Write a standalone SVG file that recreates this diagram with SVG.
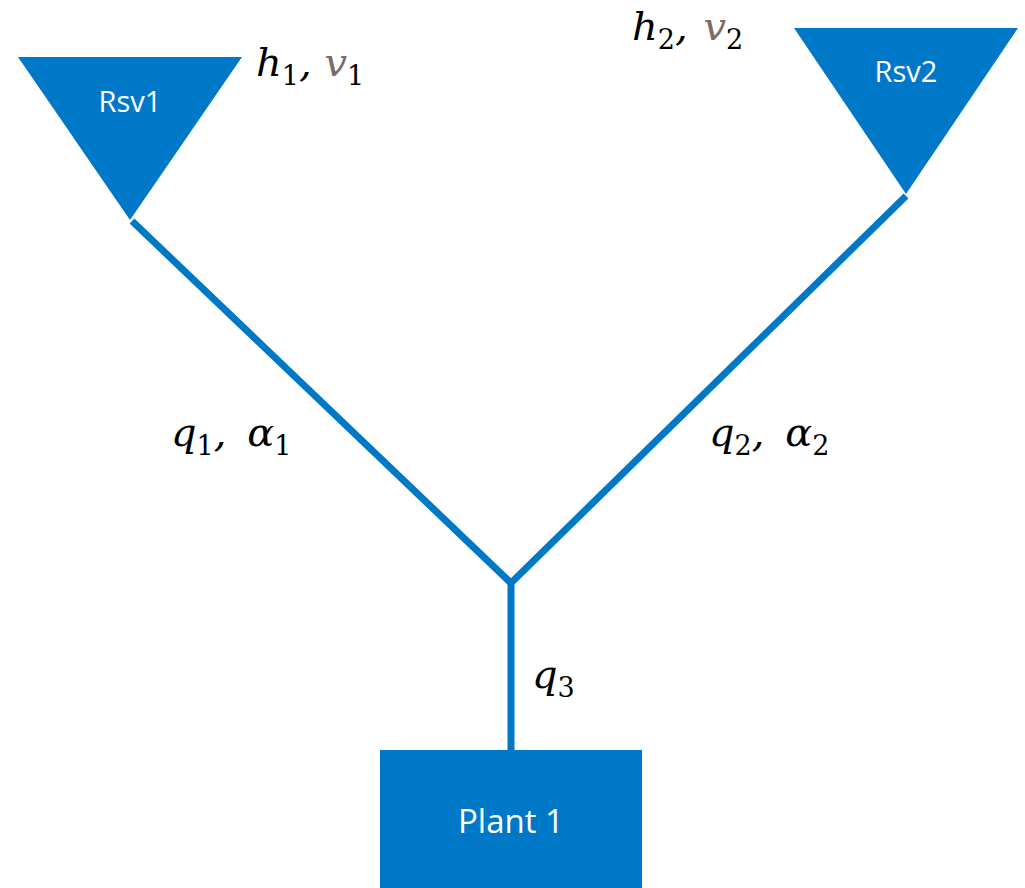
<svg xmlns="http://www.w3.org/2000/svg" width="1025" height="888" viewBox="0 0 1025 888">
<style>
.shape{fill:#0078C8}
.pipe{stroke:#0078C8;stroke-width:7;fill:none;stroke-linejoin:miter}
.lbl{fill:#fff;font-family:"Open Sans","Noto Sans",sans-serif;text-anchor:middle}
.m{font-family:"DejaVu Serif","Liberation Serif",serif;font-style:italic;font-size:40px;fill:#000}
.s{font-style:normal;font-size:27px}
.v{fill:#7F6A68}
</style>
<rect width="1025" height="888" fill="#fff"/>
<g id="connectors">
<path class="pipe" d="M132,221 L511,583 L906,196"/>
<path class="pipe" d="M511,583 L511,752"/>
</g>
<g id="rsv1">
<polygon class="shape" points="18,57 242,57 130,220"/>
<text class="lbl" x="130" y="112" font-size="29">Rsv1</text>
</g>
<g id="rsv2">
<polygon class="shape" points="794,28 1018,28 906,194"/>
<text class="lbl" x="906" y="82" font-size="29">Rsv2</text>
</g>
<g id="plant1">
<rect class="shape" x="380" y="750" width="262" height="138"/>
<text class="lbl" x="511" y="833" font-size="33">Plant 1</text>
</g>
<g id="labels">
<text class="m" x="256" y="76">h<tspan class="s" dy="9">1</tspan><tspan dy="-9">, </tspan><tspan class="v">v</tspan><tspan class="s" dy="9">1</tspan></text>
<text class="m" x="632" y="40">h<tspan class="s" dy="9">2</tspan><tspan dy="-9">, </tspan><tspan class="v" dx="3">v</tspan><tspan class="s" dy="9">2</tspan></text>
<text class="m" x="171" y="446">q<tspan class="s" dy="9">1</tspan><tspan dy="-9">, </tspan><tspan dx="8">α</tspan><tspan class="s" dy="9">1</tspan></text>
<text class="m" x="709" y="446">q<tspan class="s" dy="9">2</tspan><tspan dy="-9">, </tspan><tspan dx="8">α</tspan><tspan class="s" dy="9">2</tspan></text>
<text class="m" x="532" y="688">q<tspan class="s" dy="9">3</tspan></text>
</g>
</svg>
